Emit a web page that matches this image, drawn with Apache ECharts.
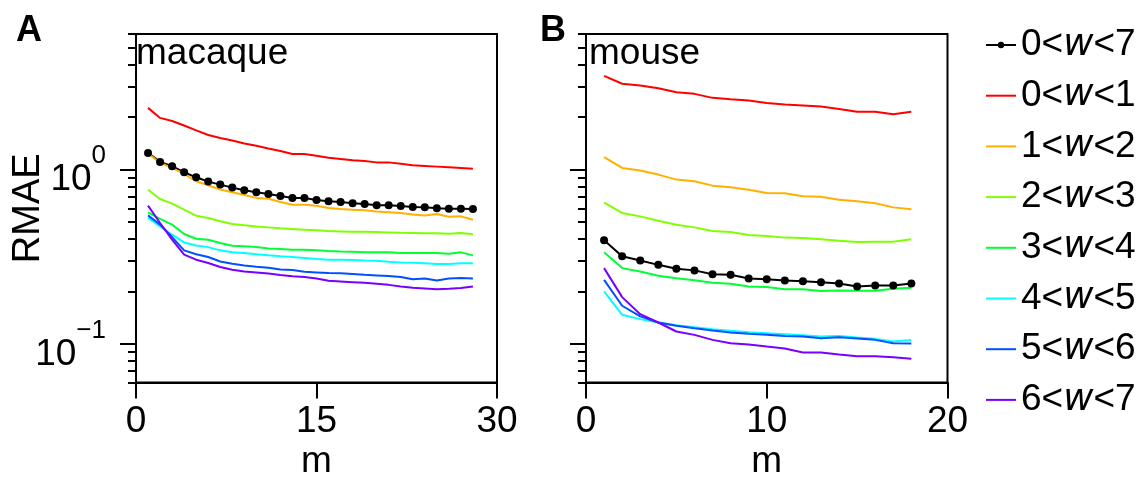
<!DOCTYPE html>
<html><head><meta charset="utf-8">
<script src="https://cdn.jsdelivr.net/npm/echarts@6/dist/echarts.min.js"></script>
<style>html,body{margin:0;padding:0;background:#fff}#c{width:1140px;height:481px}</style>
</head><body><div id="c"></div>
<script>
// ---- data ----
const seriesNames = ['0<w<7','0<w<1','1<w<2','2<w<3','3<w<4','4<w<5','5<w<6','6<w<7'];
const seriesColors = ['#000000','#ff0000','#ffb000','#80ff00','#00ff33','#00ffff','#0050ff','#7700ff'];

const mMacaque = [1,2,3,4,5,6,7,8,9,10,11,12,13,14,15,16,17,18,19,20,21,22,23,24,25,26,27,28];
const mMouse = [1,2,3,4,5,6,7,8,9,10,11,12,13,14,15,16,17,18];

const macaque_w0_7 = [1.247,1.107,1.045,0.965,0.903,0.853,0.820,0.788,0.761,0.741,0.725,0.706,0.688,0.688,0.669,0.658,0.652,0.641,0.635,0.624,0.624,0.618,0.610,0.607,0.600,0.597,0.597,0.594];
const macaque_w0_1 = [2.26,1.98,1.90,1.79,1.68,1.58,1.52,1.47,1.41,1.37,1.32,1.28,1.23,1.23,1.20,1.17,1.15,1.13,1.12,1.10,1.10,1.08,1.06,1.05,1.04,1.03,1.02,1.01];
const macaque_w1_2 = [1.24,1.092,1.022,0.944,0.857,0.813,0.768,0.741,0.715,0.688,0.681,0.652,0.629,0.629,0.621,0.602,0.594,0.589,0.584,0.574,0.569,0.564,0.552,0.546,0.556,0.536,0.539,0.516];
const macaque_w2_3 = [0.767,0.678,0.638,0.589,0.544,0.528,0.505,0.487,0.479,0.472,0.466,0.460,0.456,0.452,0.448,0.444,0.442,0.440,0.440,0.438,0.436,0.434,0.433,0.431,0.431,0.429,0.433,0.425];
const macaque_w3_4 = [0.569,0.521,0.483,0.427,0.401,0.396,0.379,0.366,0.363,0.359,0.353,0.350,0.347,0.347,0.344,0.341,0.339,0.338,0.336,0.335,0.335,0.332,0.332,0.332,0.332,0.329,0.335,0.322];
const macaque_w4_5 = [0.528,0.472,0.423,0.382,0.367,0.359,0.344,0.335,0.332,0.327,0.322,0.318,0.315,0.311,0.307,0.304,0.304,0.303,0.301,0.300,0.296,0.293,0.292,0.290,0.287,0.287,0.290,0.290];
const macaque_w5_6 = [0.546,0.483,0.410,0.344,0.327,0.315,0.297,0.288,0.282,0.277,0.273,0.267,0.265,0.259,0.257,0.255,0.254,0.252,0.249,0.247,0.245,0.242,0.235,0.237,0.231,0.237,0.239,0.237];
const macaque_w6_7 = [0.621,0.494,0.396,0.325,0.304,0.291,0.276,0.266,0.260,0.257,0.253,0.248,0.244,0.242,0.237,0.230,0.228,0.226,0.224,0.221,0.218,0.2135,0.2098,0.208,0.206,0.207,0.209,0.2135];

const mouse_w0_7 = [0.393,0.318,0.301,0.284,0.270,0.264,0.251,0.249,0.237,0.235,0.231,0.229,0.226,0.222,0.2135,0.216,0.216,0.222];
const mouse_w0_1 = [3.45,3.11,3.04,2.93,2.78,2.72,2.58,2.53,2.49,2.41,2.36,2.33,2.30,2.23,2.15,2.15,2.08,2.15];
const mouse_w1_2 = [1.18,1.022,0.987,0.936,0.876,0.857,0.809,0.792,0.767,0.734,0.732,0.703,0.699,0.672,0.658,0.641,0.607,0.592];
const mouse_w2_3 = [0.646,0.564,0.539,0.509,0.483,0.466,0.444,0.438,0.421,0.416,0.407,0.405,0.398,0.391,0.384,0.386,0.386,0.398];
const mouse_w3_4 = [0.335,0.272,0.260,0.246,0.238,0.232,0.224,0.221,0.2135,0.2117,0.206,0.206,0.2008,0.2026,0.2017,0.2017,0.207,0.2098];
const mouse_w4_5 = [0.200,0.1468,0.1386,0.1326,0.1280,0.1247,0.1214,0.1188,0.1167,0.1151,0.1136,0.1121,0.1102,0.1111,0.1088,0.1068,0.1031,0.1051];
const mouse_w5_6 = [0.233,0.1654,0.1437,0.1326,0.1269,0.1230,0.1193,0.1162,0.1141,0.1126,0.1111,0.1102,0.1078,0.1092,0.1074,0.1054,0.1009,0.1004];
const mouse_w6_7 = [0.272,0.1854,0.148,0.1326,0.1177,0.1126,0.1054,0.1009,0.0991,0.0965,0.0940,0.0891,0.0891,0.0868,0.0849,0.0849,0.0838,0.0820];

const yMajorTicks = [0.1, 1];
const yMinorTicks = [0.06,0.07,0.08,0.09,0.2,0.3,0.4,0.5,0.6,0.7,0.8,0.9,2,3,4,5,6];
const xTicksMacaque = [0, 15, 30];
const xTicksMouse = [0, 10, 20];

const macaqueSets = [macaque_w0_7,macaque_w0_1,macaque_w1_2,macaque_w2_3,macaque_w3_4,macaque_w4_5,macaque_w5_6,macaque_w6_7];
const mouseSets = [mouse_w0_7,mouse_w0_1,mouse_w1_2,mouse_w2_3,mouse_w3_4,mouse_w4_5,mouse_w5_6,mouse_w6_7];

// ---- chart ----
const FONT = 'Liberation Sans';
const FS = 37;
const chart = echarts.init(document.getElementById('c'), null, {renderer: 'canvas'});

function xAxisDef(gi, ticks) {
  return {
    type: 'value', gridIndex: gi, min: ticks[0], max: ticks[ticks.length-1], interval: ticks[1]-ticks[0],
    name: 'm', nameLocation: 'middle', nameGap: 61, nameMoveOverlap: false,
    nameTextStyle: {fontSize: FS, fontFamily: FONT, color: '#000'},
    axisLine: {show: true, onZero: false, lineStyle: {color: '#000', width: 2}},
    axisTick: {show: true, length: 16, lineStyle: {color: '#000', width: 2}},
    axisLabel: {fontSize: FS, fontFamily: FONT, color: '#000', margin: 21},
    splitLine: {show: false}
  };
}
function supLabel(v) {
  return v >= 1 ? '{h| }{b|10}{s|0}' : '{h| }{b|10}{s|\u22121}';
}
function yMajor(gi, showLabels, name) {
  return {
    type: 'log', logBase: 10, gridIndex: gi, min: 0.06, max: 6, position: 'left',
    name: name || '', nameLocation: 'middle', nameGap: 88, nameMoveOverlap: false,
    nameTextStyle: {fontSize: 38, fontFamily: FONT, color: '#000'},
    axisLine: {show: true, lineStyle: {color: '#000', width: 2}},
    axisTick: {show: true, length: 16, customValues: yMajorTicks, lineStyle: {color: '#000', width: 2}},
    axisLabel: {
      show: showLabels, customValues: yMajorTicks, margin: 30, formatter: supLabel, color: '#000',
      padding: [2, 0, 0, 0],
      rich: {
        h: {fontSize: 1, lineHeight: 55},
        b: {fontSize: FS, fontFamily: FONT, color: '#000', lineHeight: 37, padding: [19, 0, 0, 0]},
        s: {fontSize: 26, fontFamily: FONT, color: '#000', lineHeight: 26, verticalAlign: 'top'}
      }
    },
    splitLine: {show: false}
  };
}
function yMinor(gi) {
  return {
    type: 'log', logBase: 10, gridIndex: gi, min: 0.06, max: 6, position: 'left',
    axisLine: {show: false},
    axisTick: {show: true, length: 8, customValues: yMinorTicks, lineStyle: {color: '#000', width: 2}},
    axisLabel: {show: false},
    splitLine: {show: false}
  };
}

const series = [];
function addSeries(xs, sets, xi, yi) {
  sets.forEach((ys, k) => {
    const isMean = k === 0;
    series.push({
      type: 'line', name: seriesNames[k], xAxisIndex: xi, yAxisIndex: yi,
      data: xs.map((m, i) => [m, ys[i]]),
      symbol: isMean ? 'circle' : 'none', symbolSize: 8, showSymbol: isMean,
      lineStyle: {color: seriesColors[k], width: 2},
      itemStyle: {color: seriesColors[k]},
      silent: true, animation: false
    });
  });
}
addSeries(mMacaque, macaqueSets, 0, 0);
addSeries(mMouse, mouseSets, 1, 2);

const txt = (s, left, top, fs, bold) => ({
  text: s, left: left, top: top, padding: 0,
  textStyle: {fontSize: fs, fontFamily: FONT, fontWeight: bold ? 'bold' : 'normal', color: '#000'}
});

const gridCommon = {show: true, borderColor: '#000', borderWidth: 2, backgroundColor: 'transparent', containLabel: false, outerBoundsMode: 'none'};

chart.setOption({
  backgroundColor: '#fff',
  animation: false,
  title: [
    txt('A', 16, 13, 36, true),
    txt('B', 540, 13, 36, true),
    txt('macaque', 136, 35, FS, false),
    txt('mouse', 589, 35, FS, false)
  ],
  grid: [
    Object.assign({left: 136, top: 34, width: 361, height: 348.5}, gridCommon),
    Object.assign({left: 586, top: 34, width: 361.5, height: 348.5}, gridCommon)
  ],
  xAxis: [xAxisDef(0, xTicksMacaque), xAxisDef(1, xTicksMouse)],
  yAxis: [yMajor(0, true, 'RMAE'), yMinor(0), yMajor(1, false, ''), yMinor(1)],
  legend: {
    orient: 'vertical', left: 985, top: 26.5, padding: 0,
    itemWidth: 30, itemHeight: 8, itemGap: 13.7,
    data: seriesNames.map((n, k) => k === 0 ? {name: n} : {name: n, itemStyle: {opacity: 0}}),
    formatter: function (name) {
      const p = name.split('w');
      return '{n|' + p[0] + '}{i|w}{n|' + p[1] + '}';
    },
    textStyle: {
      fontSize: FS, fontFamily: FONT, color: '#000', lineHeight: 37,
      rich: {
        n: {fontSize: FS, fontFamily: FONT, color: '#000', lineHeight: 37},
        i: {fontSize: FS, fontFamily: 'DejaVu Sans', fontStyle: 'italic', color: '#000', lineHeight: 37}
      }
    }
  },
  series: series
});
</script>
</body></html>
